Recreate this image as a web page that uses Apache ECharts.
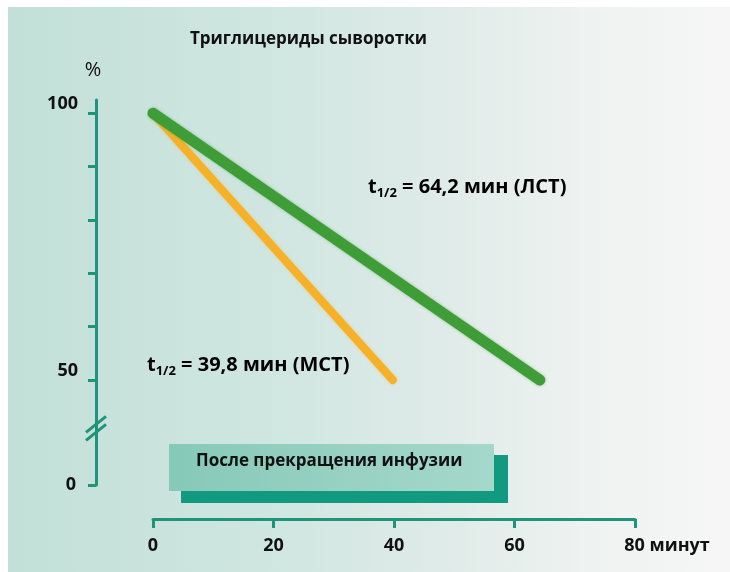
<!DOCTYPE html>
<html>
<head>
<meta charset="utf-8">
<script src="https://cdn.jsdelivr.net/npm/echarts@6/dist/echarts.min.js"></script>
<style>
  html, body { margin: 0; padding: 0; background: #ffffff; }
  #chart { width: 730px; height: 572px; }
</style>
</head>
<body>
<div id="chart"></div>
<script>
// Serum triglyceride elimination after stopping the infusion
const title = 'Триглицериды сыворотки';
const boxText = 'После прекращения инфузии';
const timeTicks = [0, 20, 40, 60, 80];
const timeUnit = 'минут';
const upperTicks = [50, 60, 70, 80, 90, 100];
const upperLabels = [50, 100];
const lowerLabels = [0];

// Half-life lines: from 100 % at t = 0 down to 50 % at t = t1/2
const lctHalfLife = 64.2;
const mctHalfLife = 39.8;
const lctTime = [0, lctHalfLife];
const lctLevel = [100, 50];
const mctTime = [0, mctHalfLife];
const mctLevel = [100, 50];

const AXIS = '#1f9479';
const FONT = 'Open Sans';
const fmt = v => String(v).replace('.', ',');

const chart = echarts.init(document.getElementById('chart'));

function halfLifeText(v, tag) {
  return '{t|t}{s|1/2}{t| = ' + fmt(v) + ' мин (' + tag + ')}';
}
const halfRich = {
  t: { fontFamily: FONT, fontWeight: 'bold', fontSize: 20, color: '#111', lineHeight: 26, verticalAlign: 'middle' },
  s: { fontFamily: FONT, fontWeight: 'bold', fontSize: 13, color: '#111', lineHeight: 14, verticalAlign: 'bottom' }
};

const option = {
  animation: false,
  backgroundColor: '#ffffff',
  grid: [
    { left: 153, width: 482, top: 100, height: 280 },
    { left: 153, width: 482, top: 380, height: 105 }
  ],
  xAxis: [
    { type: 'value', gridIndex: 0, min: 0, max: 80, show: false },
    {
      type: 'value', gridIndex: 1, min: 0, max: 80, interval: 20, offset: 34,
      axisLine: { show: true, onZero: false, lineStyle: { color: AXIS, width: 3 } },
      axisTick: { show: true, length: 9, lineStyle: { color: AXIS, width: 3 } },
      splitLine: { show: false },
      axisLabel: {
        margin: 18,
        fontFamily: FONT, fontWeight: 'bold', fontSize: 18, color: '#111',
        customValues: timeTicks,
        formatter: v => v === 80 ? '{p|}' + v + ' ' + timeUnit : String(v),
        rich: { p: { width: 64 } }
      }
    }
  ],
  yAxis: [
    {
      type: 'value', gridIndex: 0, min: 50, max: 102.5, offset: 57,
      name: '%', nameLocation: 'end', nameGap: 20,
      nameTextStyle: { fontFamily: FONT, fontSize: 20, color: '#111', align: 'center', padding: [0, 6, 0, 0] },
      axisLine: { show: true, onZero: false, lineStyle: { color: AXIS, width: 3 } },
      axisTick: { show: true, length: 8, customValues: upperTicks, lineStyle: { color: AXIS, width: 3 } },
      splitLine: { show: false },
      axisLabel: {
        margin: 18, customValues: upperLabels,
        fontFamily: FONT, fontWeight: 'bold', fontSize: 18, color: '#111',
        verticalAlign: 'bottom', lineHeight: 18
      }
    },
    {
      type: 'value', gridIndex: 1, min: 0, max: 50, offset: 57,
      axisLine: { show: true, onZero: false, lineStyle: { color: AXIS, width: 3 } },
      axisTick: { show: true, length: 8, customValues: lowerLabels, lineStyle: { color: AXIS, width: 3 } },
      splitLine: { show: false },
      axisLabel: {
        margin: 20, customValues: lowerLabels,
        fontFamily: FONT, fontWeight: 'bold', fontSize: 18, color: '#111'
      }
    }
  ],
  series: [
    {
      name: 'МСТ', type: 'line', xAxisIndex: 0, yAxisIndex: 0,
      data: mctTime.map((t, i) => [t, mctLevel[i]]),
      symbol: 'none', clip: false, z: 2,
      lineStyle: { color: '#f6b128', width: 8, cap: 'round', shadowColor: 'rgba(246,177,40,0.5)', shadowBlur: 3 }
    },
    {
      name: 'ЛСТ', type: 'line', xAxisIndex: 0, yAxisIndex: 0,
      data: lctTime.map((t, i) => [t, lctLevel[i]]),
      symbol: 'none', clip: false, z: 3,
      lineStyle: { color: '#3e9d37', width: 11, cap: 'round', shadowColor: 'rgba(62,157,55,0.5)', shadowBlur: 3 }
    }
  ],
  graphic: [
    {
      type: 'rect', z: -10, silent: true,
      shape: { x: 8, y: 7, width: 722, height: 565 },
      style: {
        fill: new echarts.graphic.LinearGradient(0, 0, 1, 0, [
          { offset: 0, color: '#c2e0d8' },
          { offset: 0.35, color: '#cfe6e0' },
          { offset: 0.6, color: '#dfebe8' },
          { offset: 0.8, color: '#eef2f0' },
          { offset: 1, color: '#f6f6f6' }
        ])
      }
    },
    {
      type: 'text', left: 190, top: 31,
      style: { text: title, fontFamily: FONT, fontWeight: 'bold', fontSize: 17, fill: '#111' }
    },
    {
      type: 'text', left: 368, top: 177,
      style: { text: halfLifeText(lctHalfLife, 'ЛСТ'), rich: halfRich }
    },
    {
      type: 'text', left: 147, top: 355,
      style: { text: halfLifeText(mctHalfLife, 'МСТ'), rich: halfRich }
    },
    {
      type: 'rect', z: 5,
      shape: { x: 181, y: 455, width: 327, height: 48 },
      style: { fill: '#129a80' }
    },
    {
      type: 'rect', z: 6,
      shape: { x: 169, y: 444, width: 325, height: 47 },
      style: {
        fill: new echarts.graphic.LinearGradient(0, 0, 1, 0, [
          { offset: 0, color: '#86c9b8' },
          { offset: 1, color: '#a5d8ca' }
        ])
      }
    },
    {
      type: 'text', z: 7, left: 196, top: 453,
      style: { text: boxText, fontFamily: FONT, fontWeight: 'bold', fontSize: 17, fill: '#111' }
    }
  ]
};

chart.setOption(option);

// Axis break marks: two parallel slashes across the value axis between 0 and 50
const axisX = chart.convertToPixel({ gridIndex: 1 }, [0, 0])[0] - 57;
const breakY = chart.convertToPixel({ yAxisIndex: 1 }, 27);
const slash = dy => ({
  type: 'line', z: 8,
  shape: { x1: axisX - 10, y1: breakY + dy + 8, x2: axisX + 10, y2: breakY + dy - 8 },
  style: { stroke: AXIS, lineWidth: 3 }
});
chart.setOption({ graphic: option.graphic.concat([slash(-4), slash(4)]) });
</script>
</body>
</html>
